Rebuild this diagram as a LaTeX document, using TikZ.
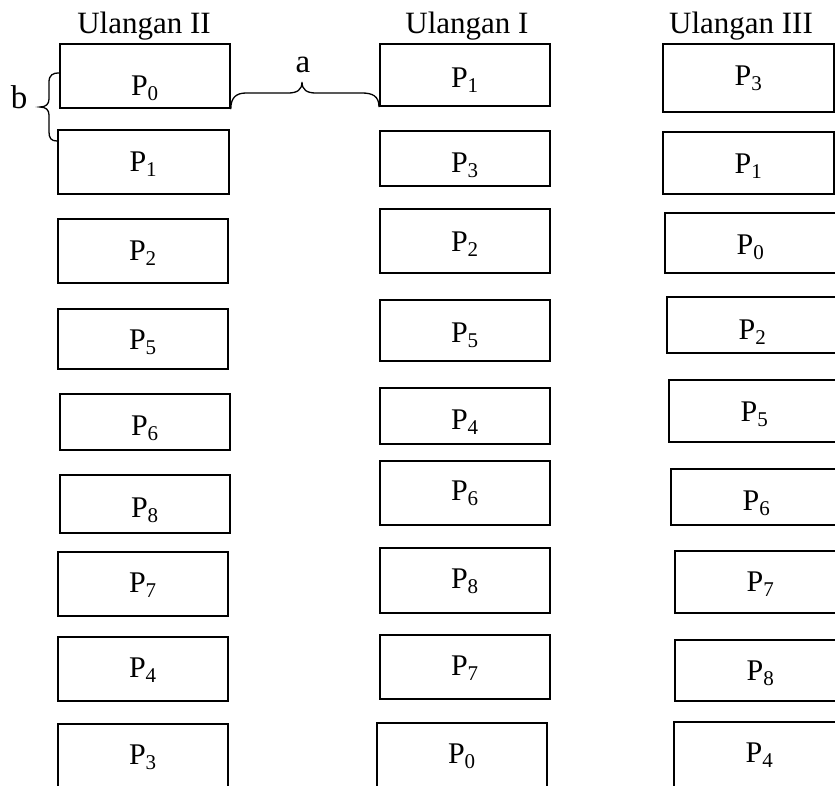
\documentclass[tikz,border=0pt]{standalone}
\usepackage{fontspec}
\setmainfont{Liberation Serif}
\begin{document}
\begin{tikzpicture}[x=1pt,y=-1pt,
  pbox/.style={draw, line width=1.8pt, rectangle, inner sep=0pt},
  plab/.style={font=\fontsize{30}{33}\selectfont, anchor=base, inner sep=0pt},
  head/.style={font=\fontsize{31}{35}\selectfont, anchor=base, inner sep=0pt},
  bl/.style={font=\fontsize{33}{36}\selectfont, anchor=base, inner sep=0pt},
  brc/.style={line width=1.3pt, line cap=round}]
\useasboundingbox (0,0) rectangle (835,785);
\clip (0,0) rectangle (835,785);
% #1 name, #2 left, #3 top, #4 right, #5 bottom, #6 index, #7 baseline drop
\newcommand\pbox[7]{%
  \node[pbox, anchor=north west, minimum width=#4pt-#2pt, minimum height=#5pt-#3pt] (#1) at (#2,#3) {};
  \node[plab] (#1t) at ([yshift=-#7pt]#1.north) {P\textsubscript{#6}};}

% Ulangan II
\pbox{c1a}{59}{43}{229}{107}{0}{52}
\pbox{c1b}{57}{129}{228}{193}{1}{42}
\pbox{c1c}{57}{218}{227}{282}{2}{42}
\pbox{c1d}{57}{308}{227}{368}{5}{41}
\pbox{c1e}{59}{393}{229}{449}{6}{42}
\pbox{c1f}{59}{474}{229}{532}{8}{43}
\pbox{c1g}{57}{551}{227}{615}{7}{41}
\pbox{c1h}{57}{636}{227}{700}{4}{41}
\pbox{c1i}{57}{723}{227}{800}{3}{41}

% Ulangan I
\pbox{c2a}{379}{43}{549}{105}{1}{44}
\pbox{c2b}{379}{130}{549}{185}{3}{42}
\pbox{c2c}{379}{208}{549}{272}{2}{43}
\pbox{c2d}{379}{299}{549}{360}{5}{43}
\pbox{c2e}{379}{387}{549}{443}{4}{42}
\pbox{c2f}{379}{460}{549}{524}{6}{40}
\pbox{c2g}{379}{547}{549}{612}{8}{41}
\pbox{c2h}{379}{634}{549}{698}{7}{41}
\pbox{c2i}{376}{722}{546}{800}{0}{41}

% Ulangan III
\pbox{c3a}{662}{43}{833}{111}{3}{42}
\pbox{c3b}{662}{131}{833}{193}{1}{42}
\pbox{c3c}{664}{212}{835}{272}{0}{42}
\pbox{c3d}{666}{296}{837}{352}{2}{43}
\pbox{c3e}{668}{379}{839}{441}{5}{42}
\pbox{c3f}{670}{468}{841}{524}{6}{42}
\pbox{c3g}{674}{550}{845}{612}{7}{41}
\pbox{c3h}{674}{639}{845}{700}{8}{41}
\pbox{c3i}{673}{721}{844}{800}{4}{41}

% column headings
\node[head] (h2) at (144,33) {Ulangan II};
\node[head] (h1) at (467,33) {Ulangan I};
\node[head] (h3) at (741,33) {Ulangan III};

% horizontal brace a between the first two columns
\draw[brc] (c1a.south east) .. controls +(0,-11) and (236,93) .. (246,93)
  -- (288,93) .. controls (297,93) and (302,90) .. (302,82)
  .. controls (302,90) and (307,93) .. (316,93)
  -- (362,93) .. controls (372,93) and +(0,-11) .. (c2a.south west);
\node[bl] (la) at (303,72) {a};

% vertical brace b between the first two rows
\draw[brc] ([yshift=3pt]c1a.west) .. controls +(-6,0) and (49,75) .. (49,82)
  -- (49,99) .. controls (49,104) and (46,107) .. (40,107)
  .. controls (46,107) and (49,110) .. (49,115)
  -- (49,132) .. controls (49,138) and +(-6,0) .. ([yshift=-12pt]c1b.north west);
\node[bl] (lb) at (19,108) {b};
\end{tikzpicture}
\end{document}
